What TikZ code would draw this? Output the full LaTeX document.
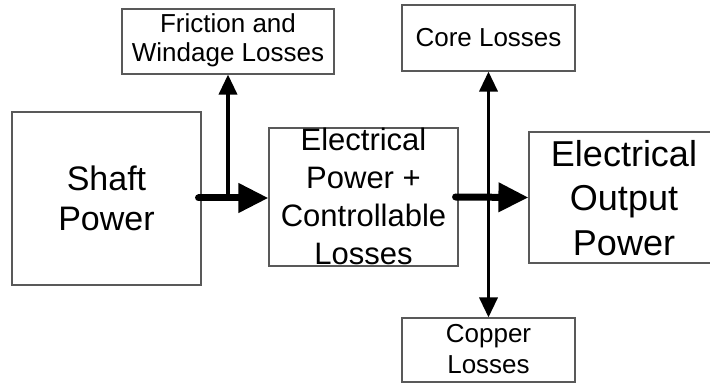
\documentclass[tikz,border=0pt]{standalone}
\usepackage{fontspec}
\setmainfont{Liberation Sans}
\usetikzlibrary{arrows.meta}
\tikzset{
  box/.style={draw=black!65, line width=1.1pt, fill=white, inner sep=0pt},
  txt/.style={align=center, inner sep=0pt},
  bigarrow/.style={line width=7pt, line cap=round, -{Triangle[length=30pt,width=28pt]}},
  thinarrow/.style={line width=3.5pt, -{Triangle[length=20pt,width=18pt]}},
  dblarrow/.style={line width=3.5pt, {Triangle[length=20pt,width=18pt]}-{Triangle[length=20pt,width=18pt]}}
}
\begin{document}
\begin{tikzpicture}[x=1pt,y=-1pt]
\useasboundingbox (0,0) rectangle (710,385);
\clip (0,0) rectangle (710,385);
% boxes
\node[box, minimum width=189pt, minimum height=173pt] (shaft) at (106.5,198.5) {};
\node[box, minimum width=212pt, minimum height=65pt] (fric) at (228,41.5) {};
\node[box, minimum width=189pt, minimum height=138pt] (mid) at (363.5,197) {};
\node[box, minimum width=173pt, minimum height=66pt] (core) at (488.5,38) {};
\node[box, minimum width=173pt, minimum height=64pt] (copper) at (488.5,350) {};
\node[box, minimum width=220pt, minimum height=131pt] (out) at (639,197.5) {};
% texts
\node[txt, font=\fontsize{34}{40}\selectfont] (shaftT) at (shaft.center) {Shaft\\Power};
\node[txt, font=\fontsize{26}{29}\selectfont] (fricT) at (228,40) {Friction and\\Windage Losses};
\node[txt, font=\fontsize{31}{38}\selectfont] (midT) at (363.5,196) {Electrical\\Power +\\Controllable\\Losses};
\node[txt, font=\fontsize{26}{30}\selectfont] (coreT) at (488.5,38) {Core Losses};
\node[txt, font=\fontsize{26}{31}\selectfont] (copperT) at (488.5,349) {Copper\\Losses};
\node[txt, font=\fontsize{36}{44.5}\selectfont] (outT) at (624,198) {Electrical\\Output\\Power};
% connectors
\coordinate (s1) at ([xshift=-3pt]shaft.east |- 0,198);
\coordinate (e1) at (mid.west |- 0,198);
\coordinate (j1) at (228,198);
\draw[thinarrow] (j1) -- (fric.south);
\draw[bigarrow] (s1) -- (e1);
\coordinate (s2) at ([xshift=-3pt]mid.east);
\draw[dblarrow] (core.south) -- (copper.north);
\draw[bigarrow] (s2) -- (out.west);
\end{tikzpicture}
\end{document}
